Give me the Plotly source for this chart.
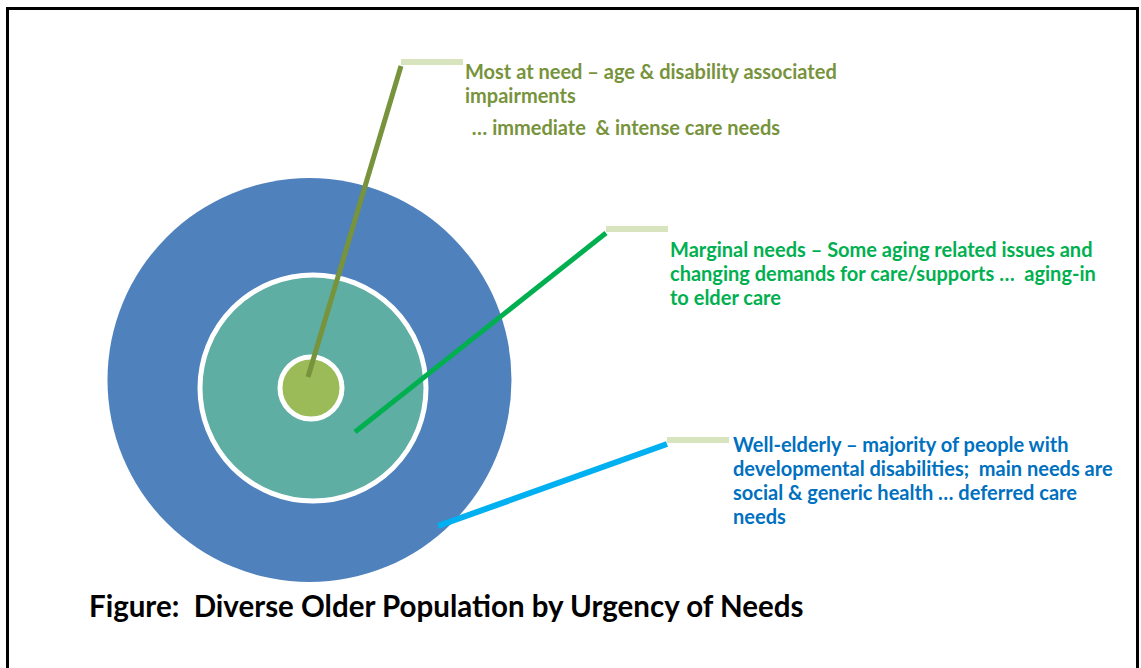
import plotly.graph_objects as go

# Population tiers, from the widest group inward
tiers = ["Well-elderly", "Marginal needs", "Most at need"]
tier_radius = [202, 113, 31]          # relative reach of each group
tier_fill = ["#4F81BD", "#5EAEA4", "#9BBB59"]
tier_text_color = ["#0070C0", "#00B050", "#77933C"]
leader_color = ["#00B0F0", "#00B050", "#77933C"]

tier_notes = [
    ["Well-elderly – majority of people with",
     "developmental disabilities;&nbsp; main needs are",
     "social &amp; generic health … deferred care",
     "needs"],
    ["Marginal needs – Some aging related issues and",
     "changing demands for care/supports …&nbsp; aging-in",
     "to elder care"],
    ["Most at need – age &amp; disability associated",
     "impairments"],
]
extra_note = " … immediate&nbsp; &amp; intense care needs"
caption = "Figure:&nbsp; Diverse Older Population by Urgency of Needs"

W, H = 1141, 668
FONT = "Lato"
centers = [(309.5, 380), (313, 388), (311, 388)]
# leader line start (inside ring) and end (at the label)
leader_start = [(438, 526), (355, 432), (308, 377)]
leader_end = [(667, 444), (606, 233), (401, 66)]
label_xy = [(731, 444), (668, 249), (463, 71)]
LINE_STEP = 24

fig = go.Figure()
shapes = []

# outer frame
shapes.append(dict(type="rect", xref="x", yref="y", x0=7.5, x1=1137.5, y0=8.5, y1=700,
                   line=dict(color="black", width=3), fillcolor="rgba(0,0,0,0)"))

for i, name in enumerate(tiers):
    cx, cy = centers[i]
    r = tier_radius[i]
    shapes.append(dict(type="circle", xref="x", yref="y",
                       x0=cx - r, x1=cx + r, y0=cy - r, y1=cy + r,
                       fillcolor=tier_fill[i],
                       line=dict(color="white", width=0 if i == 0 else 5)))

for i, name in enumerate(tiers):
    (x0, y0), (x1, y1) = leader_start[i], leader_end[i]
    shapes.append(dict(type="line", xref="x", yref="y", x0=x0, y0=y0, x1=x1, y1=y1,
                       line=dict(color=leader_color[i], width=6 if i == 0 else 5)))
    # pale tab at the end of each leader
    shapes.append(dict(type="line", xref="x", yref="y", x0=x1, y0=y1 - 4, x1=x1 + 62, y1=y1 - 4,
                       line=dict(color="#D7E4BD", width=6)))

annotations = []


def add_line(x, y, text, size, color):
    annotations.append(dict(x=x, y=y, xref="x", yref="y", xanchor="left", yanchor="middle",
                            align="left", showarrow=False, text=text,
                            font=dict(family=FONT, size=size, color=color, weight="bold")))


for i, name in enumerate(tiers):
    lx, ly = label_xy[i]
    for k, line in enumerate(tier_notes[i]):
        add_line(lx, ly + k * LINE_STEP, line, 20, tier_text_color[i])
add_line(465, 127, extra_note, 20, tier_text_color[2])
add_line(87, 605, caption, 29.5, "black")

fig.update_layout(
    width=W, height=H,
    margin=dict(l=0, r=0, t=0, b=0),
    paper_bgcolor="white", plot_bgcolor="white",
    xaxis=dict(range=[0, W], visible=False, fixedrange=True),
    yaxis=dict(range=[H, 0], visible=False, fixedrange=True),
    shapes=shapes, annotations=annotations, showlegend=False,
)

fig.write_html("out.html", config={"displayModeBar": False})
